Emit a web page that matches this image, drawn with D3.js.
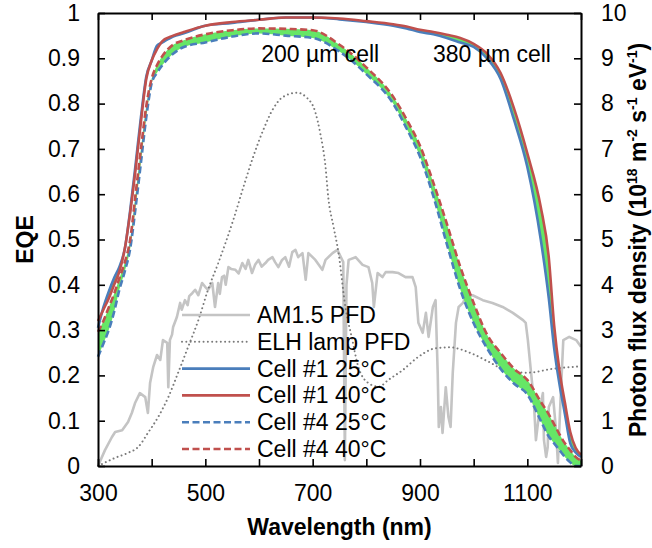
<!DOCTYPE html>
<html><head><meta charset="utf-8">
<script src="https://cdn.jsdelivr.net/npm/d3@7"></script>
<style>
body{margin:0;background:#fff}
svg{display:block}
text{font-family:"Liberation Sans",Arial,sans-serif}
</style>
</head><body>
<svg id="chart" width="652" height="548"></svg>
<script>
// ---------- DATA ----------
const cellWavelengths = [300,310,320,330,340,350,360,370,380,390,400,410,420,440,460,500,550,600,650,700,750,800,850,875,900,925,950,975,1000,1025,1050,1075,1100,1125,1140,1150,1160,1170,1180,1190,1200];
const cell1_25C = [0.305,0.35,0.385,0.415,0.44,0.48,0.565,0.665,0.77,0.86,0.895,0.928,0.935,0.948,0.955,0.972,0.978,0.985,0.99,0.99,0.986,0.98,0.972,0.966,0.958,0.953,0.945,0.935,0.925,0.9,0.855,0.765,0.66,0.5,0.37,0.26,0.18,0.115,0.05,0.03,0.02];
const cell1_40C = [0.32,0.345,0.37,0.4,0.43,0.48,0.56,0.655,0.76,0.855,0.895,0.92,0.938,0.95,0.958,0.972,0.98,0.985,0.99,0.99,0.988,0.982,0.975,0.97,0.963,0.958,0.952,0.945,0.932,0.91,0.868,0.79,0.69,0.572,0.46,0.31,0.21,0.14,0.075,0.04,0.025];
const cell4_25C = [0.241,0.27,0.3,0.34,0.39,0.43,0.48,0.57,0.67,0.77,0.845,0.868,0.885,0.91,0.925,0.935,0.948,0.955,0.95,0.945,0.915,0.865,0.8,0.745,0.683,0.595,0.49,0.39,0.315,0.26,0.215,0.182,0.158,0.1,0.065,0.05,0.035,0.02,0.008,0.0,0.0];
const cell4_40C = [0.296,0.32,0.35,0.38,0.415,0.45,0.5,0.6,0.7,0.795,0.855,0.885,0.905,0.93,0.94,0.953,0.962,0.966,0.965,0.962,0.93,0.88,0.815,0.765,0.707,0.625,0.535,0.44,0.36,0.29,0.25,0.215,0.19,0.142,0.114,0.092,0.07,0.05,0.035,0.02,0.012];

const am15Wavelengths = [300,313,326,332,345,356,363,369,378,388,393,397,403,410,416,421,429,431,434,438,440,447,453,456,462,467,470,476,481,487,494,500,505,513,518,524,527,531,535,538,543,548,556,562,569,575,580,587,593,599,605,612,617,625,630,636,643,649,656,662,668,673,681,687,692,705,718,724,737,746,755,757,760,763,767,780,793,804,811,814,821,830,836,849,860,873,886,892,897,905,911,916,924,929,933,935,939,942,948,953,957,961,967,972,980,985,998,1017,1035,1054,1073,1092,1097,1101,1107,1112,1116,1122,1129,1131,1135,1138,1140,1148,1153,1157,1162,1167,1178,1191,1200];
const am15PFD = [0,0.35,0.64,0.75,0.79,0.97,1.17,1.39,1.61,1.52,1.17,1.83,2.19,2.45,2.34,2.78,2.72,1.74,2.78,2.9,3.07,3.29,3.6,3.45,3.66,3.55,3.75,3.82,3.89,3.77,4.04,3.95,3.89,4.04,3.51,4.04,3.8,4.17,4.2,4.0,4.39,4.35,4.33,4.25,4.48,4.35,4.55,4.26,4.45,4.55,4.4,4.48,4.55,4.61,4.5,4.39,4.55,4.61,4.4,4.72,4.77,4.61,4.7,4.11,4.7,4.55,4.33,4.55,4.7,4.77,4.55,4.5,0.13,4.0,4.55,4.61,4.44,4.39,4.04,3.51,4.26,4.17,4.28,4.28,4.26,4.17,4.17,3.95,3.16,2.94,3.38,2.85,3.51,3.66,2.05,0.86,1.3,0.73,1.74,1.08,0.86,2.05,3.16,3.51,3.6,3.73,3.77,3.66,3.6,3.51,3.38,3.22,3.16,2.78,2.05,1.46,0.57,1.17,1.61,0.57,0.2,0.42,1.3,1.52,0.86,0.07,1.5,2.78,2.85,2.78,2.63];

const elhWavelengths = [300,332,356,375,393,412,431,449,468,487,505,524,552,571,589,608,627,645,671,690,705,714,724,729,739,748,761,774,785,804,823,841,868,897,929,955,995,1028,1063,1100,1150,1200];
const elhPFD = [0,0.18,0.29,0.42,0.73,1.08,1.52,2.05,2.63,3.22,3.89,4.48,5.43,6.16,6.82,7.42,7.9,8.15,8.24,8.12,7.81,7.35,6.6,5.94,5.28,4.72,3.51,2.78,2.19,1.83,1.75,1.9,2.12,2.41,2.6,2.62,2.49,2.3,2.1,2.06,2.15,2.2];

const xTicks = [300,400,500,600,700,800,900,1000,1100,1200];
const xTickLabels = [300,500,700,900,1100];
const eqeTicks = [0,0.1,0.2,0.3,0.4,0.5,0.6,0.7,0.8,0.9,1];
const pfdTicks = [0,1,2,3,4,5,6,7,8,9,10];
const legendLabels = ["AM1.5 PFD","ELH lamp PFD","Cell #1 25°C","Cell #1 40°C","Cell #4 25°C","Cell #4 40°C"];
const annotations = [{text:"200 µm cell", wl:604, eqe:0.892},{text:"380 µm cell", wl:924, eqe:0.892}];

// ---------- STYLE ----------
const BLUE = "#4a7ebb", RED = "#c0504d", GREEN = "#66e666", GRAY = "#c4c4c4", DOT = "#7a7a7a";
const FS = 23;

const svg = d3.select("#chart");
const L = 98, R = 581, T = 13, B = 466;
const x = d3.scaleLinear().domain([300,1200]).range([L,R]);
const yL = d3.scaleLinear().domain([0,1]).range([B,T]);
const yR = d3.scaleLinear().domain([0,10]).range([B,T]);

const pts = (xs, ys) => xs.map((w,i)=>[w,ys[i]]);

// AM1.5
svg.append("path").datum(pts(am15Wavelengths, am15PFD))
  .attr("fill","none").attr("stroke",GRAY).attr("stroke-width",2.6).attr("stroke-linejoin","round")
  .attr("d", d3.line().x(d=>x(d[0])).y(d=>yR(d[1])));
// ELH
svg.append("path").datum(pts(elhWavelengths, elhPFD))
  .attr("fill","none").attr("stroke",DOT).attr("stroke-width",2).attr("stroke-linecap","round")
  .attr("stroke-dasharray","0.01 4.3")
  .attr("d", d3.line().x(d=>x(d[0])).y(d=>yR(d[1])).curve(d3.curveMonotoneX));

// green bands
const band = (a,b) => cellWavelengths.map((w,i)=>[w,a[i],b[i]]);
const area = d3.area().x(d=>x(d[0])).y0(d=>yL(d[1])).y1(d=>yL(d[2])).curve(d3.curveMonotoneX);
svg.append("path").datum(band(cell4_25C,cell4_40C)).attr("fill",GREEN).attr("d",area);
svg.append("path").datum(band(cell1_25C,cell1_40C)).attr("fill",GREEN).attr("d",area);

const eqeLine = d3.line().x(d=>x(d[0])).y(d=>yL(d[1])).curve(d3.curveMonotoneX);
const cellSeries = [
  {v:cell4_25C, c:BLUE, dash:"7 3.5"},
  {v:cell4_40C, c:RED, dash:"7 3.5"},
  {v:cell1_25C, c:BLUE, dash:null},
  {v:cell1_40C, c:RED, dash:null}
];
cellSeries.forEach(s=>{
  svg.append("path").datum(pts(cellWavelengths, s.v))
    .attr("fill","none").attr("stroke",s.c).attr("stroke-width",2.6)
    .attr("stroke-dasharray", s.dash)
    .attr("d", eqeLine);
});

// ---------- AXES ----------
function styleAxis(g){
  g.attr("font-family","Liberation Sans, Arial, sans-serif").attr("font-size",FS);
  g.selectAll("path.domain").attr("stroke","#000").attr("stroke-width",2);
  g.selectAll(".tick line").attr("stroke","#000").attr("stroke-width",1.6);
  g.selectAll(".tick text").attr("fill","#000");
}
svg.append("g").attr("transform",`translate(0,${B})`)
  .call(d3.axisBottom(x).tickValues(xTicks).tickSizeInner(-7).tickSizeOuter(0).tickPadding(19)
    .tickFormat(d=>xTickLabels.includes(d)?d:""))
  .call(styleAxis);
svg.append("g").attr("transform",`translate(0,${T})`)
  .call(d3.axisTop(x).tickValues(xTicks).tickSizeInner(-7).tickSizeOuter(0).tickFormat(""))
  .call(styleAxis);
svg.append("g").attr("transform",`translate(${L},0)`)
  .call(d3.axisLeft(yL).tickValues(eqeTicks).tickSizeInner(-7).tickSizeOuter(0).tickPadding(18)
    .tickFormat(d=>d3.format("")(+d.toFixed(1))))
  .call(styleAxis);
svg.append("g").attr("transform",`translate(${R},0)`)
  .call(d3.axisRight(yR).tickValues(pfdTicks).tickSizeInner(-7).tickSizeOuter(0).tickPadding(20))
  .call(styleAxis);

// axis titles
svg.append("text").attr("x",(L+R)/2).attr("y",535).attr("text-anchor","middle")
  .attr("font-size",FS).attr("font-weight","bold").text("Wavelength (nm)");
svg.append("text").attr("transform",`translate(33,${(T+B)/2}) rotate(-90)`).attr("text-anchor","middle")
  .attr("font-size",FS).attr("font-weight","bold").text("EQE");
const rt = svg.append("text").attr("transform",`translate(646,437) rotate(-90)`).attr("text-anchor","start")
  .attr("font-size",FS).attr("font-weight","bold");
rt.append("tspan").text("Photon flux density (10");
rt.append("tspan").attr("font-size",14).attr("dy",-9).text("18");
rt.append("tspan").attr("dy",9).text(" m");
rt.append("tspan").attr("font-size",14).attr("dy",-9).text("-2");
rt.append("tspan").attr("dy",9).text(" s");
rt.append("tspan").attr("font-size",14).attr("dy",-9).text("-1");
rt.append("tspan").attr("dy",9).text(" eV");
rt.append("tspan").attr("font-size",14).attr("dy",-9).text("-1");
rt.append("tspan").attr("dy",9).text(")");

// annotations
annotations.forEach(a=>{
  svg.append("text").attr("x",x(a.wl)).attr("y",yL(a.eqe)).attr("font-size",FS).attr("fill","#000").text(a.text);
});

// ---------- LEGEND ----------
const legendStyles = [
  {c:GRAY, w:2.6, dash:null, cap:"butt"},
  {c:DOT, w:2, dash:"0.01 4.3", cap:"round"},
  {c:BLUE, w:2.6, dash:null, cap:"butt"},
  {c:RED, w:2.6, dash:null, cap:"butt"},
  {c:BLUE, w:2.6, dash:"7 3.5", cap:"butt"},
  {c:RED, w:2.6, dash:"7 3.5", cap:"butt"}
];
const lg = svg.append("g");
legendLabels.forEach((lab,i)=>{
  const yy = 315 + i*26.8;
  const st = legendStyles[i];
  lg.append("line").attr("x1",182).attr("x2",250).attr("y1",yy).attr("y2",yy)
    .attr("stroke",st.c).attr("stroke-width",st.w).attr("stroke-dasharray",st.dash).attr("stroke-linecap",st.cap);
  lg.append("text").attr("x",257).attr("y",yy).attr("dy","0.35em").attr("font-size",FS).attr("fill","#000").text(lab);
});
</script>
</body></html>
